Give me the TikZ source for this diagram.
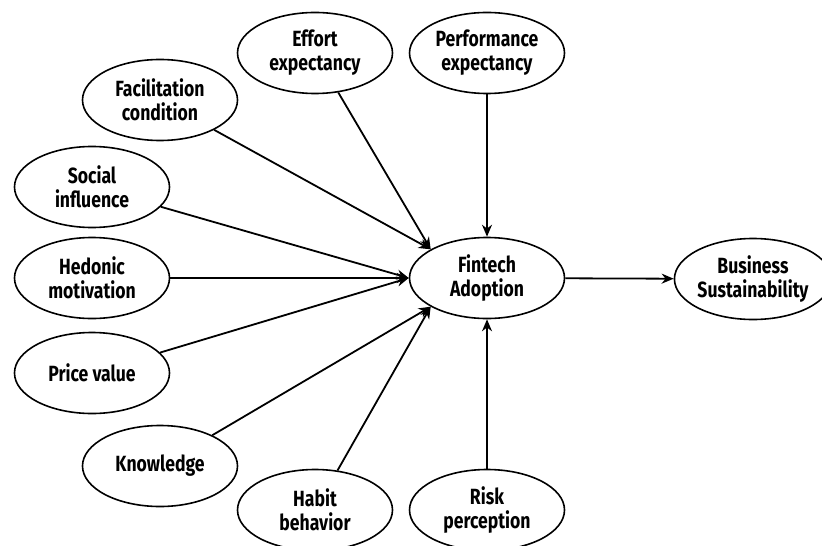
\documentclass[tikz,border=0pt]{standalone}
\usepackage{fontspec}
\setmainfont{Fira Sans}[FakeStretch=0.8]
\usetikzlibrary{shapes,arrows.meta}
\tikzset{
construct/.style={ellipse, draw, line width=0.8pt, minimum width=77.5pt, minimum height=40.5pt, inner sep=0pt, align=center, font=\bfseries\fontsize{11}{12}\selectfont},
link/.style={-{Stealth[length=6pt,width=5pt]}, line width=0.9pt}
}
\begin{document}
\begin{tikzpicture}[x=0.5pt, y=-0.5pt]
\useasboundingbox (0,0) rectangle (822,545);
\clip (0,0) rectangle (822,545);
% constructs
\node[construct] (eff) at (315,53) {Effort\\expectancy};
\node[construct] (perf) at (487,53) {Performance\\expectancy};
\node[construct] (fac) at (160,100) {Facilitation\\condition};
\node[construct] (soc) at (92,187) {Social\\influence};
\node[construct] (hed) at (92,278) {Hedonic\\motivation};
\node[construct] (price) at (92,373) {Price value};
\node[construct] (know) at (160,466) {Knowledge};
\node[construct] (habit) at (315,510) {Habit\\behavior};
\node[construct] (risk) at (487,510) {Risk\\perception};
\node[construct] (fin) at (487,278) {Fintech\\Adoption};
\node[construct] (bus) at (753,279) {Business\\Sustainability};
% paths
\draw[link] (eff) -- (fin.153);
\draw[link] (fac) -- (fin.153);
\draw[link] (perf) -- (fin);
\draw[link] (soc) -- (fin.west);
\draw[link] (hed) -- (fin.west);
\draw[link] (price) -- (fin.west);
\draw[link] (know) -- (fin.207);
\draw[link] (habit) -- (fin.207);
\draw[link] (risk) -- (fin);
\draw[link] (fin) -- (bus);
\end{tikzpicture}
\end{document}
